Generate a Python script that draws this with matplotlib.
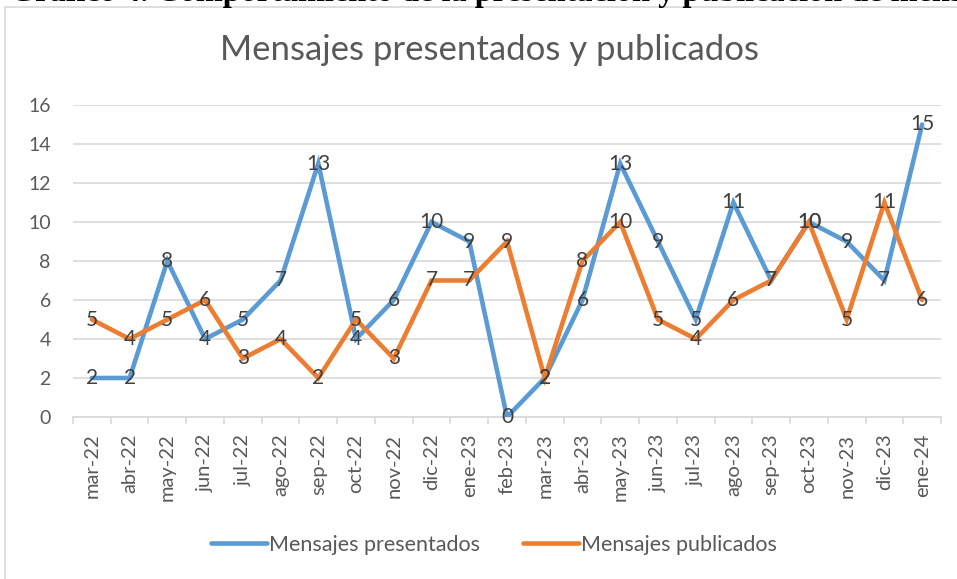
import matplotlib.pyplot as plt
from matplotlib.lines import Line2D
from matplotlib.patches import Rectangle

# datos
meses = ['mar-22', 'abr-22', 'may-22', 'jun-22', 'jul-22', 'ago-22', 'sep-22',
         'oct-22', 'nov-22', 'dic-22', 'ene-23', 'feb-23', 'mar-23', 'abr-23',
         'may-23', 'jun-23', 'jul-23', 'ago-23', 'sep-23', 'oct-23', 'nov-23',
         'dic-23', 'ene-24']
presentados = [2, 2, 8, 4, 5, 7, 13, 4, 6, 10, 9, 0, 2, 6, 13, 9, 5, 11, 7, 10, 9, 7, 15]
publicados = [5, 4, 5, 6, 3, 4, 2, 5, 3, 7, 7, 9, 2, 8, 10, 5, 4, 6, 7, 10, 5, 11, 6]
yticks = [0, 2, 4, 6, 8, 10, 12, 14, 16]

plt.rcParams['font.family'] = ['Lato', 'DejaVu Sans']

azul = '#5B9BD5'
naranja = '#ED7D31'
gris = '#595959'

fig = plt.figure(figsize=(9.57, 5.79), dpi=100)
ax = fig.add_axes([73/957, 1-417/579, (941-73)/957, (417-105)/579])

x = list(range(len(meses)))
ax.plot(x, presentados, color=azul, lw=3.3, solid_capstyle='round', solid_joinstyle='miter', zorder=3)
ax.plot(x, publicados, color=naranja, lw=3.3, solid_capstyle='round', solid_joinstyle='miter', zorder=3)

for i, v in enumerate(presentados):
    ax.text(i, v, str(v), ha='center', va='center', fontsize=15, color='#404040', zorder=5)
for i, v in enumerate(publicados):
    ax.text(i, v, str(v), ha='center', va='center', fontsize=15, color='#404040', zorder=5)

ax.set_xlim(-0.5, len(meses) - 0.5)
ax.set_ylim(0, 16)
ax.set_yticks(yticks)
ax.set_yticklabels([str(t) for t in yticks], fontsize=14, color=gris)
ax.tick_params(axis='y', length=0, pad=16)
ax.grid(axis='y', color='#D9D9D9', lw=1.2)
ax.set_axisbelow(True)

# etiquetas del eje x (categorias) y marcas entre categorias
ax.set_xticks(x)
ax.set_xticklabels(meses, rotation=90, fontsize=14.5, color=gris)
ax.tick_params(axis='x', length=0, pad=12)
ax.set_xticks([i - 0.5 for i in range(len(meses) + 1)], minor=True)
ax.tick_params(axis='x', which='minor', length=5, color='#D9D9D9', width=1.2)

for s in ['top', 'right', 'left']:
    ax.spines[s].set_visible(False)
ax.spines['bottom'].set_color('#D9D9D9')
ax.spines['bottom'].set_linewidth(1.2)

fig.text(490/957, 1-50/579, 'Mensajes presentados y publicados', ha='center', va='center',
         fontsize=25, color=gris)

handles = [Line2D([0], [0], color=azul, lw=3.3, solid_capstyle='round'),
           Line2D([0], [0], color=naranja, lw=3.3, solid_capstyle='round')]
fig.legend(handles, ['Mensajes presentados', 'Mensajes publicados'], loc='center',
           bbox_to_anchor=(494/957, 1-545/579), ncol=2, frameon=False, fontsize=15.5,
           handlelength=2.6, handletextpad=0.1, columnspacing=2.0, labelcolor=gris)

# marco del grafico
fig.patches.append(Rectangle((5/957, -0.01), 1.0, 1-7/579 + 0.01, transform=fig.transFigure,
                             fill=False, edgecolor='#D9D9D9', lw=1.2))

# titulo del documento, cortado arriba
prefijo = 'Gráfico 4. Com'
tramo = 'portamiento de la presentación y '
tit = 'Gráfico 4. Comportamiento de la presentación y publicación de mensajes'
fs = 21
r = fig.canvas.get_renderer()
m = fig.text(0, 0.5, tramo, fontsize=fs, fontweight='bold', family='Liberation Serif')
fs = fs * 457 / m.get_window_extent(r).width
m.remove()
m = fig.text(0, 0.5, prefijo, fontsize=fs, fontweight='bold', family='Liberation Serif')
x0 = 223 - m.get_window_extent(r).width
m.remove()
fig.text(x0/957, 1-1/579, tit, ha='left', va='baseline', fontsize=fs, fontweight='bold',
         family='Liberation Serif')

fig.savefig('out.png', dpi=100)
